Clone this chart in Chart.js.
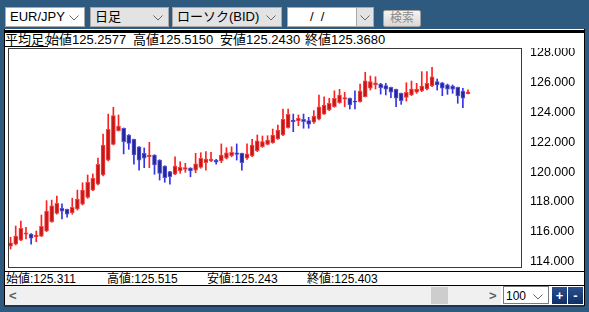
<!DOCTYPE html>
<html>
<head>
<meta charset="utf-8">
<script src="https://cdn.jsdelivr.net/npm/chart.js@4.4.0/dist/chart.umd.min.js"></script>
<style>
  body { margin: 0; width: 589px; height: 312px; background: #2f5a80; overflow: hidden; position: relative;
         font-family: "Liberation Sans", "Noto Sans CJK JP", sans-serif; font-size: 13px; color: #000; }
  .abs { position: absolute; }
  .box { position: absolute; top: 7px; height: 18px; border: 1px solid #a9a9a9; background: #e3e3e3; line-height: 18px; padding-left: 4px; white-space: nowrap; }
  .arrow { position: absolute; right: 5px; top: 7px; }
  .txt { position: absolute; white-space: nowrap; line-height: 14px; }
</style>
</head>
<body>

<!-- toolbar -->
<div class="box" style="left:5px;width:74px;background:#fff">EUR/JPY<svg class="arrow" width="10" height="6"><polyline points="0.5,0.5 5,5 9.5,0.5" fill="none" stroke="#666"/></svg></div>
<div class="box" style="left:90px;width:73px">日足<svg class="arrow" width="10" height="6"><polyline points="0.5,0.5 5,5 9.5,0.5" fill="none" stroke="#666"/></svg></div>
<div class="box" style="left:172px;width:104px">ローソク(BID)<svg class="arrow" width="10" height="6"><polyline points="0.5,0.5 5,5 9.5,0.5" fill="none" stroke="#666"/></svg></div>
<div class="box" style="left:287px;width:85px;background:#fff;padding-left:0">
  <span style="position:absolute;left:22px">/&nbsp;&nbsp;/</span>
  <div style="position:absolute;right:0;top:0;width:16px;height:18px;background:#e3e3e3;border-left:1px solid #a9a9a9"><svg class="arrow" style="right:3px" width="10" height="6"><polyline points="0.5,0.5 5,5 9.5,0.5" fill="none" stroke="#666"/></svg></div>
</div>
<div class="abs" style="left:383px;top:10px;width:36px;height:15px;border:1px solid #a0a0a0;border-radius:2px;background:linear-gradient(#f4f4f4,#d8d8d8);color:#8a8a8a;text-align:center;line-height:15px;font-size:12px">検索</div>

<!-- panel -->
<div class="abs" style="left:4px;top:29px;width:579px;height:277px;background:#fff;border-left:1px solid #000;border-right:1px solid #000"></div>
<div class="abs" style="left:4px;top:30px;width:580px;height:3px;background:#000"></div>

<div class="txt" style="left:5px;top:34px;border-bottom:1px solid #000;line-height:12px">平均足:</div>
<div class="txt" style="left:46px;top:34px;line-height:12px">始値125.2577</div>
<div class="txt" style="left:133px;top:34px;line-height:12px">高値125.5150</div>
<div class="txt" style="left:220px;top:34px;line-height:12px">安値125.2430</div>
<div class="txt" style="left:305px;top:34px;line-height:12px">終値125.3680</div>

<div class="abs" style="left:8px;top:48px;width:575px;height:220px">
  <canvas id="candleChart"></canvas>
</div>

<div class="abs" style="left:4px;top:271px;width:580px;height:1px;background:#000"></div>
<div class="txt" style="left:6px;top:272px;font-size:12px">始値:125.311</div>
<div class="txt" style="left:107px;top:272px;font-size:12px">高値:125.515</div>
<div class="txt" style="left:207px;top:272px;font-size:12px">安値:125.243</div>
<div class="txt" style="left:307px;top:272px;font-size:12px">終値:125.403</div>
<div class="abs" style="left:4px;top:285px;width:580px;height:1px;background:#000"></div>

<!-- scrollbar row -->
<div class="abs" style="left:5px;top:286px;width:496px;height:19px;background:#f0f0f0"></div>
<div class="txt" style="left:9px;top:289px;color:#606060;font-weight:bold">&lt;</div>
<div class="abs" style="left:431px;top:287px;width:17px;height:17px;background:#cdcdcd"></div>
<div class="txt" style="left:489px;top:289px;color:#606060;font-weight:bold">&gt;</div>
<div class="abs" style="left:503px;top:286px;width:46px;height:18px;background:#fff;border:1px solid #7a7a7a;font-size:12px;line-height:18px;padding-left:2px;box-sizing:border-box">100<svg class="arrow" style="top:7px" width="10" height="6"><polyline points="0.5,0.5 5,5 9.5,0.5" fill="none" stroke="#666"/></svg></div>
<div class="abs" style="left:552px;top:287px;width:15px;height:17px;background:linear-gradient(#2a4f8c,#0f2e66);color:#fff;font-weight:bold;text-align:center;line-height:17px">+</div>
<div class="abs" style="left:568px;top:287px;width:15px;height:17px;background:linear-gradient(#2a4f8c,#0f2e66);color:#fff;font-weight:bold;text-align:center;line-height:17px">-</div>
<div class="abs" style="left:4px;top:305px;width:580px;height:2px;background:#1b3556"></div>

<script>
// daily Heikin-Ashi candles (EUR/JPY)
const opens = [115.05, 115.17, 115.45, 115.84, 115.86, 115.68, 115.72, 116.06, 116.68, 117.24,
  117.58, 117.51, 117.28, 117.53, 117.85, 118.31, 118.80, 119.19, 119.81, 120.81,
  121.86, 122.78, 122.94, 122.49, 122.20, 121.70, 121.26, 121.03, 121.15, 120.81,
  120.41, 120.03, 119.86, 120.08, 120.19, 120.28, 120.14, 120.32, 120.63, 120.75,
  120.81, 120.75, 120.93, 121.10, 121.30, 121.26, 120.93, 121.08, 121.44, 121.70,
  121.86, 121.97, 122.22, 122.49, 122.98, 123.49, 123.43, 123.54, 123.45, 123.34,
  123.54, 123.89, 124.16, 124.38, 124.65, 124.88, 124.95, 124.76, 124.72, 125.05,
  125.62, 125.84, 125.90, 125.79, 125.68, 125.55, 125.28, 125.01, 125.17, 125.35,
  125.45, 125.57, 125.77, 126.06, 125.99, 125.84, 125.77, 125.68, 125.43, 125.2577];
const highs = [115.64, 116.39, 116.73, 116.31, 115.88, 116.06, 117.13, 118.09, 118.13, 118.40,
  117.87, 117.53, 118.25, 118.80, 119.29, 119.81, 119.88, 120.95, 122.55, 123.89,
  124.34, 123.83, 122.96, 122.52, 122.22, 121.72, 121.62, 122.00, 121.17, 120.83,
  120.43, 120.05, 121.03, 120.70, 120.59, 120.30, 121.26, 121.30, 121.37, 121.33,
  120.86, 121.89, 121.64, 121.70, 121.89, 121.28, 121.89, 122.20, 122.49, 122.42,
  122.44, 122.89, 123.16, 124.23, 124.23, 123.89, 123.83, 123.89, 123.67, 124.12,
  125.17, 125.05, 124.95, 125.45, 125.55, 125.35, 124.97, 125.45, 125.90, 126.69,
  126.44, 126.39, 125.95, 125.95, 125.70, 125.57, 125.30, 125.99, 126.10, 125.95,
  126.73, 126.73, 127.02, 126.24, 126.01, 125.90, 125.84, 125.70, 125.62, 125.515];
const lows = [114.85, 115.12, 115.41, 115.52, 115.17, 115.34, 115.68, 116.01, 116.64, 117.18,
  116.86, 116.98, 117.18, 117.46, 117.80, 118.25, 118.76, 119.14, 119.74, 120.75,
  121.82, 122.75, 121.22, 121.53, 120.53, 120.14, 120.30, 120.30, 119.86, 119.47,
  119.32, 119.19, 119.83, 119.92, 119.99, 119.69, 119.96, 120.26, 120.14, 120.70,
  120.53, 120.63, 120.88, 121.03, 120.81, 120.14, 120.86, 121.03, 121.37, 121.66,
  121.82, 121.93, 122.20, 122.45, 122.94, 122.71, 123.11, 122.94, 122.94, 123.27,
  123.49, 123.87, 124.12, 124.34, 124.61, 124.38, 124.23, 124.23, 124.68, 125.03,
  125.50, 125.57, 125.23, 125.17, 124.99, 124.38, 124.54, 124.76, 125.12, 125.28,
  125.39, 125.50, 125.72, 125.50, 125.12, 125.21, 125.28, 124.61, 124.32, 125.243];
const closes = [115.27, 115.72, 116.24, 115.94, 115.57, 115.79, 116.37, 117.40, 117.75, 117.91,
  117.38, 117.18, 117.65, 118.20, 118.80, 119.32, 119.59, 120.53, 121.82, 122.87,
  123.79, 123.09, 122.04, 121.93, 121.15, 120.81, 120.93, 121.15, 120.48, 119.92,
  119.63, 119.69, 120.41, 120.32, 120.30, 120.08, 120.55, 120.93, 120.88, 120.88,
  120.66, 121.15, 121.30, 121.33, 121.19, 120.63, 121.22, 121.82, 122.09, 122.04,
  122.15, 122.49, 122.82, 123.54, 123.87, 123.38, 123.61, 123.38, 123.22, 123.76,
  124.38, 124.50, 124.61, 124.95, 125.17, 124.99, 124.50, 124.68, 125.43, 126.12,
  126.06, 125.99, 125.66, 125.55, 125.35, 124.95, 124.79, 125.35, 125.57, 125.57,
  125.77, 125.95, 126.39, 125.84, 125.62, 125.55, 125.55, 125.10, 124.95, 125.368];

// 100 slots on screen (the "100" selector), only the first 90 filled
const categories = Array.from({ length: 100 }, (_, i) => String(i + 1));
const yTicks = [114, 116, 118, 120, 122, 124, 126, 128];

const isUp = i => closes[i] >= opens[i];

const frame = {
  id: 'frame',
  afterDraw(chart) {
    const { ctx, chartArea: a } = chart;
    ctx.save();
    ctx.strokeStyle = '#3a3a3a';
    ctx.lineWidth = 1;
    ctx.strokeRect(a.left + 0.5, a.top + 0.5, a.right - a.left - 1, a.bottom - a.top - 1);
    ctx.restore();
  }
};

new Chart(document.getElementById('candleChart'), {
  type: 'bar',
  data: {
    labels: categories,
    datasets: [{
      label: 'body',
      data: opens.map((o, i) => [o, closes[i]]),
      grouped: false,
      barThickness: 4,
      borderWidth: 1,
      borderSkipped: false,
      backgroundColor: c => isUp(c.dataIndex) ? '#c81616' : '#26269c',
      borderColor: c => isUp(c.dataIndex) ? '#f04848' : '#5656d6'
    }, {
      label: 'wick',
      data: lows.map((l, i) => [l, highs[i]]),
      grouped: false,
      barThickness: 1,
      backgroundColor: c => isUp(c.dataIndex) ? '#ff2020' : '#3434e4'
    }]
  },
  options: {
    responsive: true,
    maintainAspectRatio: false,
    animation: false,
    layout: { padding: 0 },
    plugins: { legend: { display: false }, tooltip: { enabled: false } },
    scales: {
      x: { display: false, offset: true },
      y: {
        position: 'right',
        min: 113.58,
        max: 128.315,
        grid: { display: false, drawTicks: false },
        border: { display: false },
        afterBuildTicks: s => { s.ticks = yTicks.map(v => ({ value: v })); },
        afterFit: s => { s.width = 61; s.paddingTop = 0; s.paddingBottom = 0; },
        ticks: {
          padding: 8,
          color: '#000',
          font: { family: 'Liberation Sans', size: 12.5 },
          callback: v => v.toFixed(3)
        }
      }
    }
  },
  plugins: [frame]
});
</script>
</body>
</html>
